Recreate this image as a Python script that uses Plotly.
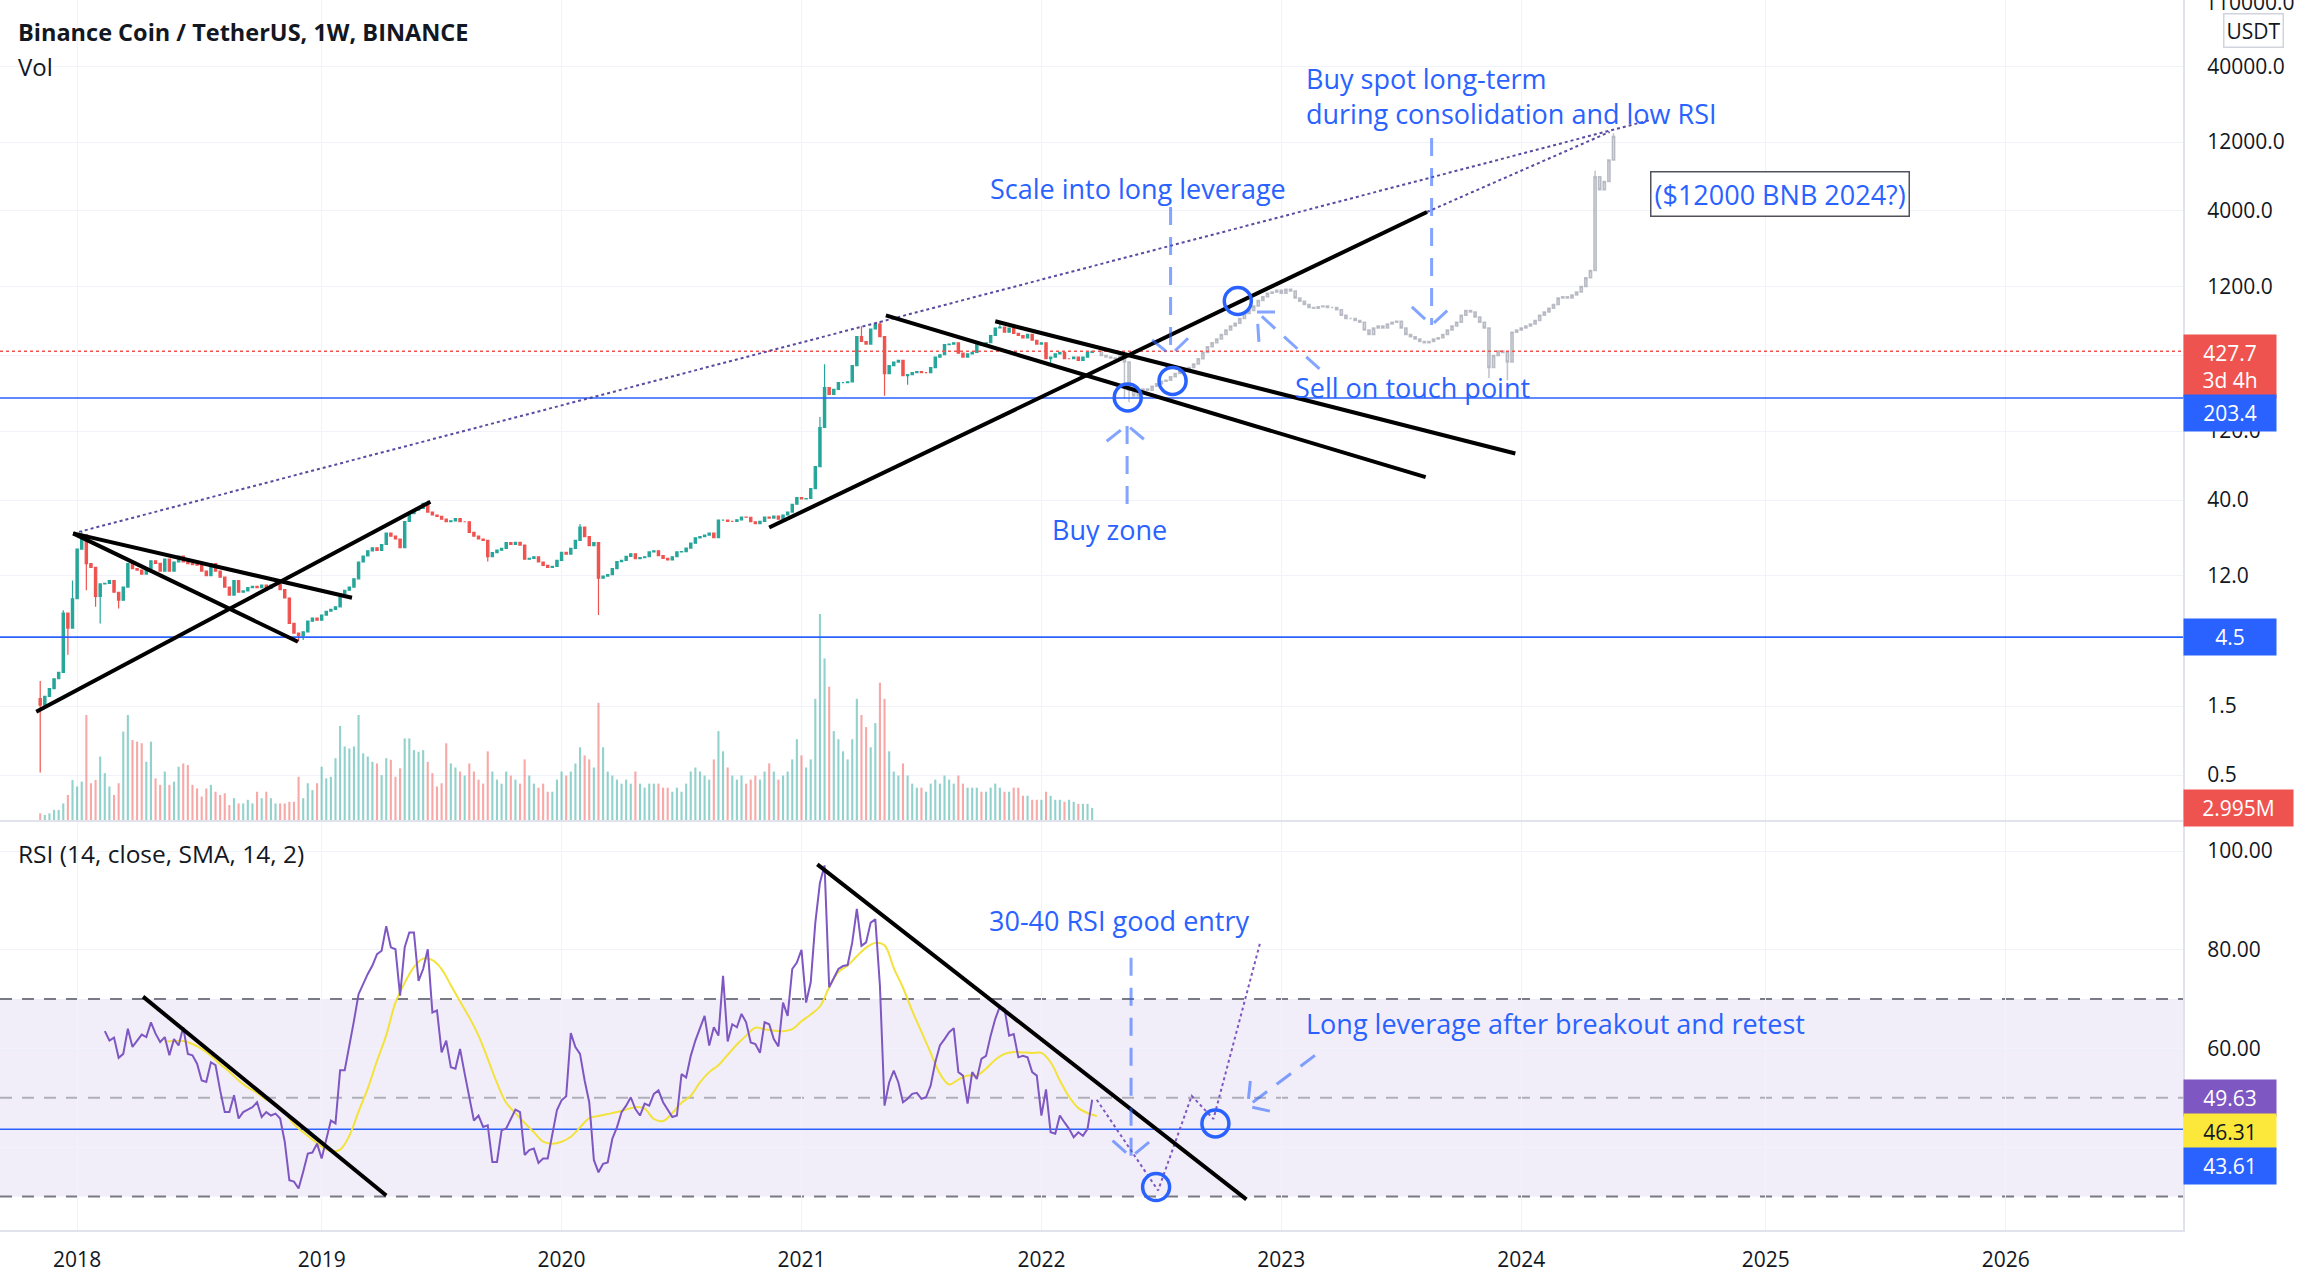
import plotly.graph_objects as go
import pandas as pd
import math

# ---------------- DATA ----------------
candle_start = "2017-11-06"
first_open = 1.69
closes = [
    1.52, 1.75, 1.98, 2.32, 2.57, 6.6, 5.2, 8.3, 18.3, 23.0,
    14.5, 13.7, 8.6, 10.5, 10.6, 11.1, 9.2, 8.1, 10.0, 14.5,
    13.4, 13.1, 12.3, 13.4, 15.2, 14.6, 12.9, 15.6, 12.9, 14.9,
    16.4, 14.9, 14.5, 14.3, 14.2, 12.9, 12.0, 14.5, 12.9, 11.7,
    10.0, 8.8, 11.1, 9.2, 9.4, 9.9, 10.1, 9.9, 10.3, 9.8,
    10.3, 10.4, 9.6, 8.4, 5.6, 4.8, 4.6, 4.9, 5.8, 6.1,
    5.9, 6.4, 6.8, 7.0, 7.3, 9.0, 9.5, 10.0, 11.4, 14.9,
    16.4, 17.8, 18.7, 17.9, 19.7, 23.6, 22.5, 21.5, 18.7, 28.4,
    32.2, 34.1, 35.0, 38.0, 33.0, 31.5, 30.8, 29.5, 28.3, 28.7,
    29.7, 28.3, 28.3, 23.9, 22.5, 21.5, 21.0, 16.2, 17.3, 18.0,
    18.5, 20.3, 19.7, 20.4, 19.5, 15.6, 15.8, 16.2, 14.9, 14.1,
    13.7, 13.9, 15.3, 17.4, 16.9, 18.5, 21.0, 26.0, 22.3, 19.3,
    20.3, 11.5, 11.9, 12.2, 13.4, 15.0, 15.3, 16.3, 17.0, 15.7,
    16.0, 16.2, 17.5, 17.8, 16.5, 15.8, 15.4, 16.2, 17.5, 17.6,
    18.6, 20.1, 21.9, 22.3, 22.9, 23.6, 22.0, 29.0, 29.0, 28.5,
    28.5, 29.2, 30.5, 30.4, 28.3, 27.4, 28.5, 30.5, 30.0, 31.0,
    29.5, 31.5, 33.0, 37.4, 41.5, 40.7, 41.0, 48.0, 68.0, 127.0,
    240.0, 215.0, 233.0, 260.0, 260.0, 263.0, 340.0, 540.0, 500.0, 480.0,
    610.0, 660.0, 540.0, 300.0, 340.0, 360.0, 370.0, 290.0, 295.0, 305.0,
    310.0, 305.0, 305.0, 330.0, 390.0, 405.0, 475.0, 480.0, 490.0, 415.0,
    390.0, 410.0, 420.0, 475.0, 470.0, 490.0, 550.0, 620.0, 630.0, 580.0,
    620.0, 570.0, 550.0, 530.0, 560.0, 510.0, 480.0, 490.0, 380.0, 390.0,
    410.0, 420.0, 380.0, 380.0, 390.0, 370.0, 390.0, 420.0, 427.7,
]
wick_hi = {0: 2.24, 5: 6.9, 7: 11.1, 9: 24.4, 84: 39.6, 117: 27.3, 169: 150.0,
           170: 348.0, 178: 638.0, 182: 691.0, 208: 669.0}
wick_lo = {0: 0.52, 6: 3.4, 10: 9.5, 12: 7.3, 13: 5.6, 17: 7.1, 56: 4.2, 57: 4.3,
           97: 15.0, 121: 6.4, 183: 211.0, 188: 251.0, 219: 340.0}
volumes = [
    1.65, 1.24, 1.65, 2.5, 2.5, 4.1, 6.2, 9.9, 8.3, 9.5,
    26.0, 9.1, 9.9, 15.7, 11.6, 8.3, 6.2, 9.1, 21.9, 26.0,
    19.8, 19.4, 19.0, 14.4, 19.4, 10.3, 8.7, 12.0, 8.7, 9.5,
    13.2, 14.0, 13.6, 8.7, 7.8, 5.8, 7.8, 8.7, 7.0, 6.2,
    6.6, 3.7, 5.4, 4.1, 4.1, 5.0, 4.1, 7.0, 5.4, 7.0,
    5.4, 4.1, 4.1, 4.1, 4.5, 4.5, 10.7, 5.4, 9.1, 7.4,
    9.1, 13.2, 10.3, 10.7, 15.3, 23.3, 18.2, 17.7, 18.2, 26.0,
    16.5, 15.7, 14.4, 14.0, 11.1, 15.3, 14.9, 10.7, 12.8, 20.2,
    20.2, 17.3, 16.9, 17.3, 14.4, 11.6, 8.3, 9.1, 19.0,
    14, 13, 12, 11, 14, 12, 10, 9, 17, 12, 10, 9, 12, 11, 10, 9, 15, 11, 9, 8, 9, 7, 7,
    10, 12, 11, 12, 14, 18, 16, 15, 13, 29, 18, 12, 11, 10, 9, 10, 9, 12, 9, 8, 9,
    9, 9, 8, 8, 7, 8, 7, 9, 12, 13, 12, 11, 10, 15, 22, 17, 13, 11, 10, 11, 9, 10,
    11, 10, 12, 14, 12, 10, 11, 12, 15,
    20, 16, 13, 15, 30, 51, 40, 33, 22, 20, 17, 15, 20, 30, 26, 23, 18, 24, 34, 30, 17,
    12, 11, 14, 11, 9, 8, 8, 7, 9, 10, 9, 11, 10, 9, 11, 9, 8, 8, 8, 7, 7, 8,
    9, 8, 7, 7, 8, 8, 6, 6, 5,
    5, 5, 7, 6, 5, 5, 4.5, 5, 4.5, 4, 4, 4, 2.995,
]

ghost_start = "2022-04-04"
ghost_closes = [
    400, 390, 385, 380, 395, 360, 230, 210, 225, 235,
    230, 245, 255, 265, 270, 285, 300, 310, 320, 330,
    350, 380, 420, 460, 490, 520, 560, 600, 640, 670,
    720, 780, 820, 880, 960, 1020, 1080, 1100, 1130, 1080,
    1150, 1120, 1000, 950, 900, 860, 850, 870, 880, 860,
    860, 830, 760, 720, 720, 700, 680, 600, 560, 620,
    640, 620, 660, 680, 690, 620, 560, 540, 520, 500,
    490, 500, 520, 530, 560, 600, 640, 680, 760, 820,
    800, 740, 680, 620, 330, 400, 430, 420, 360, 580,
    600, 620, 640, 660, 700, 760, 800, 850, 900, 1000,
    1020, 1000, 1050, 1100, 1200, 1380, 1550, 6900, 5600, 6400,
    9000, 13100,
]
ghost_hi = {107: 7600, 111: 13800}
ghost_lo = {5: 200, 6: 190, 84: 280, 88: 270}

rsi_start = "2018-02-12"
rsi_vals = [
    63.5, 61.6, 62.2, 58.1, 58.9, 64.0, 60.3, 61.6, 62.8, 62.3,
    65.3, 63.0, 61.3, 62.3, 58.6, 61.9, 60.6, 64.3, 58.9, 58.6,
    56.9, 53.5, 53.2, 57.2, 56.6, 51.5, 47.1, 47.1, 50.5, 45.8,
    47.1, 47.6, 48.1, 49.1, 46.1, 47.1, 46.4, 46.8, 45.8, 41.1,
    33.3, 33.0, 31.6, 35.0, 38.7, 38.9, 40.7, 37.7, 41.4, 45.4,
    44.8, 55.6, 55.6, 60.3, 65.6, 71.0, 73.1, 75.1, 76.8, 79.1,
    79.8, 84.8, 80.5, 80.1, 70.7, 80.5, 83.5, 83.5, 73.7, 76.1,
    80.1, 67.3, 67.7, 59.2, 61.6, 56.2, 55.9, 59.9, 54.9, 50.2,
    45.4, 46.4, 44.1, 44.4, 37.0, 37.0, 43.4, 43.8, 45.8, 47.6,
    47.1, 38.4, 39.4, 39.7, 36.8, 37.7, 37.7, 42.8, 47.5, 49.5,
    50.3, 63.1, 60.3, 58.9, 53.5, 49.1, 37.4,
    34.9, 36.6, 36.9, 41.7, 44.0, 47.1, 48.4, 50.1, 47.7, 46.4,
    48.8, 48.4, 50.8, 51.5, 49.1, 47.7, 46.1, 46.4, 54.8, 54.1,
    58.5, 61.6, 64.3, 66.6, 60.6, 64.3, 62.6, 74.7, 61.4, 64.9,
    64.3, 67.0, 65.3, 61.2, 60.9, 59.1, 65.3, 64.9, 61.9, 60.4,
    69.3, 66.6, 76.1, 77.4, 80.0, 69.3, 73.4, 85.5, 93.6, 97.1,
    72.4, 74.4, 76.1, 76.7, 76.9, 81.5, 88.3, 80.8, 81.5, 85.5,
    86.2, 72.7, 48.4, 53.1, 55.5, 53.1, 49.1, 49.8, 50.8, 51.0,
    49.8, 50.1, 52.5, 57.2, 60.6, 61.9, 63.3, 64.1, 55.2, 54.5,
    48.8, 55.2, 53.8, 57.9, 58.5, 62.6, 66.0, 68.5, 68.0, 62.6,
    62.9, 58.2, 58.5, 58.2, 55.2, 54.5, 46.4, 51.7, 43.0, 42.7,
    46.4, 45.0, 43.7, 42.0, 43.0, 42.3, 43.7, 49.6,
]
sma_start = "2018-05-14"
sma_vals = [
    61.4, 61.5, 61.5, 60.9, 59.9, 58.5, 56.8, 55.3, 53.5, 52.1,
    51.0, 49.6, 48.6, 47.0, 44.6, 43.0, 41.5, 40.1, 39.2, 39.5,
    42.3, 47.2, 51.9, 57.5, 62.7, 69.3, 73.3, 76.5, 78.2, 77.9,
    76.1, 72.8, 69.5, 66.3, 62.6, 57.9, 53.0, 49.0, 46.9, 44.9,
    43.0, 41.1, 40.7, 41.1, 42.1, 44.0, 45.9, 46.3,
    46.7, 47.1, 47.6, 48.1, 47.8, 45.7, 45.3, 46.9, 49.0, 50.4,
    53.1, 55.2, 56.6, 58.7, 60.8, 62.6, 64.2, 63.9, 63.6, 63.5,
    63.9, 65.5, 66.9, 68.5, 72.4, 75.5, 76.8, 78.7, 80.4, 81.4,
    80.9, 76.3, 72.3, 67.6, 63.4, 59.1, 54.9, 52.7, 53.7, 54.5,
    54.5, 55.9, 57.7, 58.9, 59.3, 59.2, 59.1, 59.1, 57.2, 53.5,
    50.2, 47.9, 46.9, 46.3,
]
rsi_proj_dates = ["2022-03-28", "2022-06-29", "2022-08-19", "2022-09-21", "2022-12-01"]
rsi_proj_vals = [49.6, 31.2, 50.4, 45.7, 81.5]

last_price = 427.7
blue_levels = [203.4, 4.5]
rsi_level = 43.61
rsi_band = [30, 70]
rsi_mid = 50
last_rsi, last_sma = 49.63, 46.31
last_vol_label = "2.995M"

# drawings (date, value)
price_trend_lines = [
    [("2017-10-31", 1.37), ("2019-06-21", 38.9)],
    [("2017-12-26", 23.5), ("2019-02-22", 8.43)],
    [("2017-12-26", 23.5), ("2018-12-02", 4.18)],
    [("2020-11-16", 25.8), ("2023-08-11", 3938)],
    [("2021-05-12", 759), ("2023-08-09", 57.6)],
    [("2021-10-25", 690), ("2023-12-23", 83.9)],
]
price_dotted_lines = [
    [("2017-12-26", 23.5), ("2024-07-15", 17060)],
    [("2023-08-11", 3938), ("2024-05-14", 14090)],
]
rsi_trend_lines = [
    [("2018-04-11", 70.5), ("2019-04-15", 30.2)],
    [("2021-01-28", 97.3), ("2022-11-10", 29.4)],
]
price_circles = [("2022-05-14", 205), ("2022-07-21", 267), ("2022-10-28", 953)]
rsi_circles = [("2022-06-26", 31.9), ("2022-09-24", 44.8)]
# arrows: tail, tip, head1, head2
price_arrows = [
    [("2022-07-18", 4266), ("2022-07-18", 403), ("2022-06-20", 512), ("2022-08-14", 529)],
    [("2022-05-13", 37.5), ("2022-05-13", 132), ("2022-04-12", 102), ("2022-06-11", 102)],
    [("2023-03-01", 323), ("2022-11-26", 800), ("2022-11-29", 497), ("2023-01-05", 800)],
    [("2023-08-18", 12800), ("2023-08-18", 650), ("2023-07-19", 867), ("2023-09-17", 867)],
]
rsi_arrows = [
    [("2022-05-19", 78.4), ("2022-05-19", 38.0), ("2022-04-21", 41.3), ("2022-06-18", 41.3)],
    [("2023-02-22", 58.6), ("2022-11-12", 48.3), ("2022-11-16", 53.4), ("2022-12-22", 47.1)],
]

price_ticks = [0.5, 1.5, 4.5, 12, 40, 120, 400, 1200, 4000, 12000, 40000]
price_tick_text = ["0.5", "1.5", "", "12.0", "40.0", "120.0", "", "1200.0",
                   "4000.0", "12000.0", "40000.0"]
rsi_ticks = [40, 60, 80, 100]
rsi_tick_text = ["", "60.00", "80.00", "100.00"]
year_ticks = ["2018-01-01", "2019-01-07", "2020-01-06", "2021-01-04", "2022-01-03",
              "2023-01-02", "2024-01-01", "2025-01-06", "2026-01-05"]
year_text = ["2018", "2019", "2020", "2021", "2022", "2023", "2024", "2025", "2026"]

# ---------------- FIGURE ----------------
W, H = 2324, 1286
MR, MB = 141, 56
PW, PH = W - MR, H - MB
X_RANGE = ["2017-09-06", "2026-10-01"]
PRICE_LOG_RANGE = [-0.612, 5.062]
RSI_RANGE = [23.2, 105.9]
VOL_RANGE = [0, 203]
price_dom = [(PH - 820) / PH, 1.0]
rsi_dom = [0.0, (PH - 822) / PH]

FONT = "Open Sans"
TXT = "#131722"
GRID = "#f0f3fa"
SEP = "#e0e3eb"
BLUE = "#2962ff"
UP, DOWN = "#26a69a", "#ef5350"
ARROW = "rgba(41,98,255,0.58)"

dates = pd.date_range(candle_start, periods=len(closes), freq="7D")
opens = [first_open] + closes[:-1]
highs = [wick_hi.get(i, max(o, c)) for i, (o, c) in enumerate(zip(opens, closes))]
lows = [wick_lo.get(i, min(o, c)) for i, (o, c) in enumerate(zip(opens, closes))]
vol_colors = ["rgba(38,166,154,0.5)" if c >= o else "rgba(239,83,80,0.5)"
              for o, c in zip(opens, closes)]

gdates = pd.date_range(ghost_start, periods=len(ghost_closes), freq="7D")
gopens = [last_price] + ghost_closes[:-1]
ghighs = [ghost_hi.get(i, max(o, c)) for i, (o, c) in enumerate(zip(gopens, ghost_closes))]
glows = [ghost_lo.get(i, min(o, c)) for i, (o, c) in enumerate(zip(gopens, ghost_closes))]

rsi_dates = pd.date_range(rsi_start, periods=len(rsi_vals), freq="7D")
sma_dates = pd.date_range(sma_start, periods=len(sma_vals), freq="14D")

fig = go.Figure()

# volume (base axis y)
fig.add_trace(go.Bar(x=dates, y=volumes, marker=dict(color=vol_colors, line=dict(width=0)),
                     width=3.2 * 86400000, xaxis="x", yaxis="y", hoverinfo="skip"))

# candles (price axis y2)
fig.add_trace(go.Candlestick(
    x=dates, open=opens, high=highs, low=lows, close=closes, xaxis="x", yaxis="y2",
    increasing=dict(line=dict(color=UP, width=1.2), fillcolor=UP),
    decreasing=dict(line=dict(color=DOWN, width=1.2), fillcolor=DOWN),
    whiskerwidth=0, hoverinfo="skip"))
GH_LINE = "rgba(150,154,166,0.6)"
GH_FILL = "rgba(200,203,210,0.6)"
fig.add_trace(go.Candlestick(
    x=gdates, open=gopens, high=ghighs, low=glows, close=ghost_closes, xaxis="x", yaxis="y2",
    increasing=dict(line=dict(color=GH_LINE, width=1.5), fillcolor=GH_FILL),
    decreasing=dict(line=dict(color=GH_LINE, width=1.5), fillcolor=GH_FILL),
    whiskerwidth=0, hoverinfo="skip"))

def seg(pts, xa, ya, color, width, dash=None):
    fig.add_trace(go.Scatter(x=[p[0] for p in pts], y=[p[1] for p in pts], mode="lines",
                             line=dict(color=color, width=width, dash=dash),
                             xaxis=xa, yaxis=ya, hoverinfo="skip"))

# horizontal levels in price pane
for lv in blue_levels:
    seg([(X_RANGE[0], lv), (X_RANGE[1], lv)], "x", "y2", BLUE, 1.6)
seg([(X_RANGE[0], last_price), (X_RANGE[1], last_price)], "x", "y2", "#ef5350", 1.4, "dot")

for ln in price_dotted_lines:
    seg(ln, "x", "y2", "rgba(70,55,150,0.9)", 2, "dot")
for ln in price_trend_lines:
    seg(ln, "x", "y2", "#000000", 4)
for a in price_arrows:
    seg([a[0], a[1]], "x", "y2", ARROW, 3, "18px,12px")
    seg([a[2], a[1], a[3]], "x", "y2", ARROW, 3, "18px,12px")
fig.add_trace(go.Scatter(x=[c[0] for c in price_circles], y=[c[1] for c in price_circles],
                         mode="markers", xaxis="x", yaxis="y2", hoverinfo="skip",
                         marker=dict(symbol="circle-open", size=27, color=BLUE,
                                     line=dict(width=3.5, color=BLUE))))

# RSI pane
seg([(X_RANGE[0], rsi_level), (X_RANGE[1], rsi_level)], "x2", "y3", BLUE, 1.6)
fig.add_trace(go.Scatter(x=sma_dates, y=sma_vals, mode="lines",
                         line=dict(color="#f2e23a", width=2, shape="spline"),
                         xaxis="x2", yaxis="y3", hoverinfo="skip"))
fig.add_trace(go.Scatter(x=rsi_dates, y=rsi_vals, mode="lines", line=dict(color="#7e57c2", width=2),
                         xaxis="x2", yaxis="y3", hoverinfo="skip"))
fig.add_trace(go.Scatter(x=rsi_proj_dates, y=rsi_proj_vals, mode="lines",
                         line=dict(color="#7e57c2", width=2, dash="dot"),
                         xaxis="x2", yaxis="y3", hoverinfo="skip"))
for ln in rsi_trend_lines:
    seg(ln, "x2", "y3", "#000000", 4)
for a in rsi_arrows:
    seg([a[0], a[1]], "x2", "y3", ARROW, 3, "18px,12px")
    seg([a[2], a[1], a[3]], "x2", "y3", ARROW, 3, "18px,12px")
fig.add_trace(go.Scatter(x=[c[0] for c in rsi_circles], y=[c[1] for c in rsi_circles],
                         mode="markers", xaxis="x2", yaxis="y3", hoverinfo="skip",
                         marker=dict(symbol="circle-open", size=27, color=BLUE,
                                     line=dict(width=3.5, color=BLUE))))

shapes = [
    dict(type="rect", xref="paper", yref="y3", x0=0, x1=1, y0=rsi_band[0], y1=rsi_band[1],
         fillcolor="rgba(126,87,194,0.1)", line=dict(width=0), layer="below"),
]
for lv, col in [(rsi_band[1], "rgba(120,123,134,1)"), (rsi_mid, "rgba(120,123,134,0.55)"),
                (rsi_band[0], "rgba(120,123,134,1)")]:
    shapes.append(dict(type="line", xref="paper", yref="y3", x0=0, x1=1, y0=lv, y1=lv,
                       line=dict(color=col, width=2, dash="12px,10px"), layer="below"))

ann = []
def px_x(px):
    return px / PW
def px_y(py):
    return 1 - py / PH

ann.append(dict(xref="paper", yref="paper", x=px_x(16), y=px_y(32), xanchor="left", yanchor="middle",
                text="<b>Binance Coin / TetherUS, 1W, BINANCE</b>", showarrow=False,
                font=dict(family=FONT, size=23.5, color=TXT)))
ann.append(dict(xref="paper", yref="paper", x=px_x(16), y=px_y(66), xanchor="left", yanchor="middle",
                text="Vol", showarrow=False, font=dict(family=FONT, size=24, color=TXT)))
ann.append(dict(xref="paper", yref="paper", x=px_x(16), y=px_y(853), xanchor="left", yanchor="middle",
                text="RSI (14, close, SMA, 14, 2)", showarrow=False,
                font=dict(family=FONT, size=24.5, color=TXT)))

LBL = dict(family=FONT, size=27, color=BLUE)
ann.append(dict(xref="x", yref="y2", x="2023-02-05", y=4.398, xanchor="left", yanchor="middle",
                text="Buy spot long-term<br>during consolidation and low RSI", align="left",
                showarrow=False, font=LBL))
ann.append(dict(xref="x", yref="y2", x="2022-05-30", y=3.761, xanchor="center", yanchor="middle",
                text="Scale into long leverage", showarrow=False, font=LBL))
ann.append(dict(xref="x", yref="y2", x="2025-01-27", y=3.720, xanchor="center", yanchor="middle",
                text="($12000 BNB 2024?)", showarrow=False, font=LBL,
                bordercolor="#50535e", borderwidth=1.5, borderpad=3, bgcolor="white"))
ann.append(dict(xref="x", yref="y2", x="2023-01-19", y=2.384, xanchor="left", yanchor="middle",
                text="Sell on touch point", showarrow=False, font=LBL))
ann.append(dict(xref="x", yref="y2", x="2022-04-16", y=1.395, xanchor="center", yanchor="middle",
                text="Buy zone", showarrow=False, font=LBL))
ann.append(dict(xref="x2", yref="y3", x="2022-05-01", y=85.9, xanchor="center", yanchor="middle",
                text="30-40 RSI good entry", showarrow=False, font=LBL))
ann.append(dict(xref="x2", yref="y3", x="2023-02-05", y=65.0, xanchor="left", yanchor="middle",
                text="Long leverage after breakout and retest", showarrow=False, font=LBL))

# right-axis value labels
def box(yref, yv, text, bg, fc, width=84):
    ann.append(dict(xref="paper", yref=yref, x=1, y=yv, xanchor="left", yanchor="middle",
                    text=text, showarrow=False, bgcolor=bg, borderpad=4, width=width,
                    align="center", font=dict(family=FONT, size=21, color=fc)))

box("y2", 2.529, f"{last_price}<br>3d 4h", "#ef5350", "white")
box("y2", 2.204, f"{blue_levels[0]}", BLUE, "white")
box("y2", math.log10(blue_levels[1]), f"{blue_levels[1]}", BLUE, "white")
box("y", 2.995, last_vol_label, "#ef5350", "white", width=101)
box("y3", 49.9, f"{last_rsi:.2f}", "#7e57c2", "white")
box("y3", 43.0, f"{last_sma:.2f}", "#fbe83a", "#131722")
box("y3", 36.2, f"{rsi_level:.2f}", BLUE, "white")
ann.append(dict(xref="paper", yref="paper", x=px_x(2253), y=px_y(30), xanchor="center", yanchor="middle",
                text="USDT", showarrow=False, bgcolor="white", bordercolor="#d1d4dc", borderwidth=1.5,
                borderpad=2, font=dict(family=FONT, size=21, color=TXT)))
ann.append(dict(xref="paper", yref="paper", x=1, xshift=20, y=px_y(2), xanchor="left",
                yanchor="middle", text="110000.0", showarrow=False,
                font=dict(family=FONT, size=21, color=TXT)))

axis_font = dict(family=FONT, size=21, color=TXT)
fig.update_layout(
    width=W, height=H, margin=dict(l=0, r=MR, t=0, b=MB, pad=0),
    paper_bgcolor="white", plot_bgcolor="white", showlegend=False,
    shapes=shapes, annotations=ann,
    xaxis=dict(domain=[0, 1], anchor="y", type="date", range=X_RANGE, showticklabels=False,
               tickvals=year_ticks, showgrid=True, gridcolor=GRID, gridwidth=1, zeroline=False,
               showline=True, linecolor=SEP, linewidth=2, ticks="", rangeslider=dict(visible=False)),
    xaxis2=dict(domain=[0, 1], anchor="y3", type="date", matches="x", range=X_RANGE,
                tickvals=year_ticks, ticktext=year_text, showgrid=True, gridcolor=GRID, zeroline=False,
                showline=True, linecolor=SEP, linewidth=2, ticks="", ticklabelstandoff=10,
                tickfont=dict(family=FONT, size=21, color=TXT), rangeslider=dict(visible=False)),
    yaxis=dict(domain=price_dom, anchor="x", range=VOL_RANGE, visible=False, fixedrange=True),
    yaxis2=dict(overlaying="y", anchor="x", side="right", type="log", range=PRICE_LOG_RANGE,
                tickvals=price_ticks, ticktext=price_tick_text, showgrid=True, gridcolor=GRID,
                zeroline=False, showline=True, linecolor=SEP, linewidth=2, ticks="",
                ticklabelstandoff=18, tickfont=axis_font),
    yaxis3=dict(domain=rsi_dom, anchor="x2", side="right", range=RSI_RANGE, tickvals=rsi_ticks,
                ticktext=rsi_tick_text, showgrid=True, gridcolor=GRID, zeroline=False,
                showline=True, linecolor=SEP, linewidth=2, ticks="", ticklabelstandoff=18,
                tickfont=axis_font),
)

fig.write_html("out.html", config={"displayModeBar": False},
               post_script="document.body.style.margin='0px';document.body.style.overflow='hidden';")
